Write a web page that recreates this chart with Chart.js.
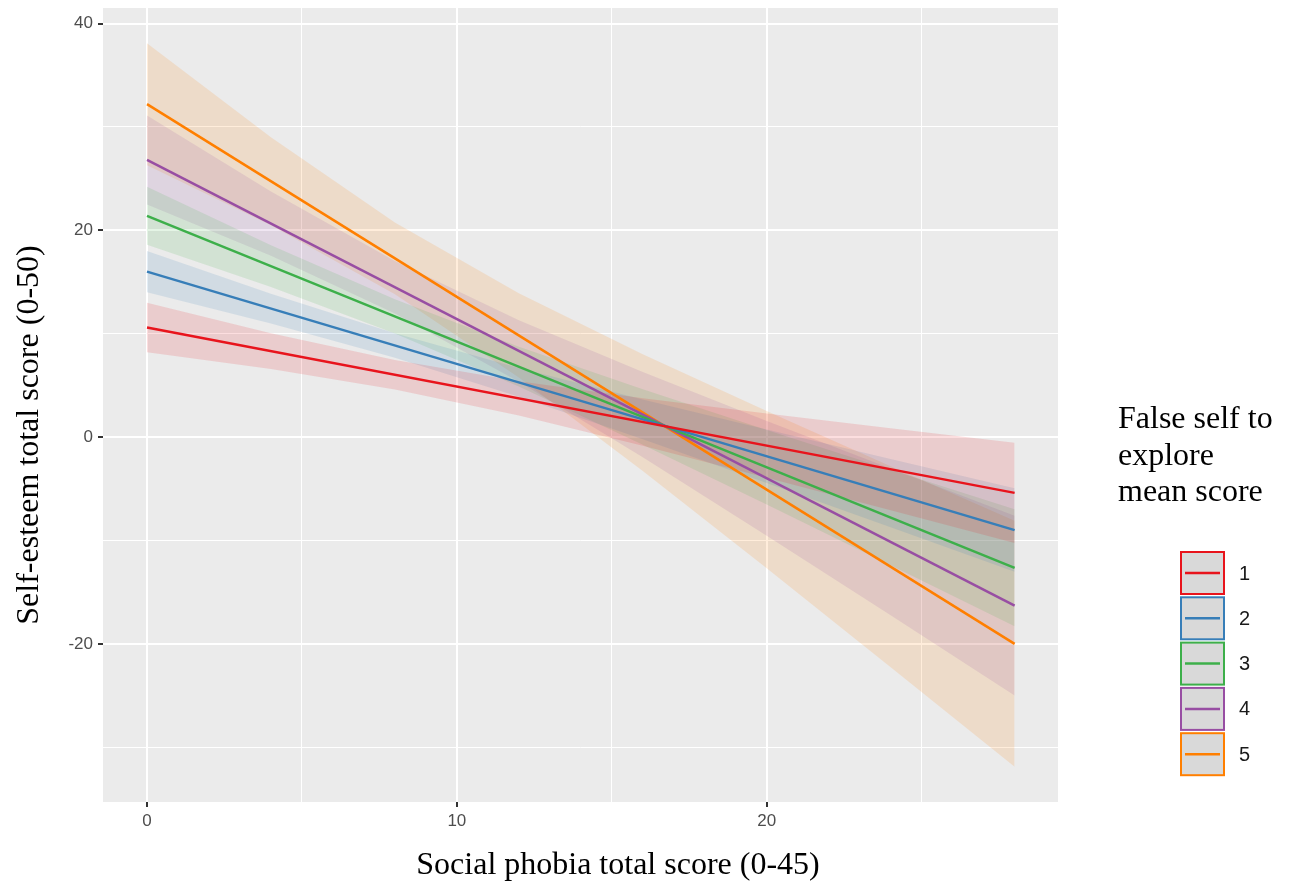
<!DOCTYPE html>
<html>
<head>
<meta charset="utf-8">
<style>
  html, body { margin: 0; padding: 0; background: #ffffff; }
  #wrap { width: 1290px; height: 884px; position: relative; }
</style>
<script src="https://cdn.jsdelivr.net/npm/chart.js@4.4.1/dist/chart.umd.min.js"></script>
</head>
<body>
<div id="wrap"><canvas id="c" width="1290" height="884"></canvas></div>
<script>
// ---------------- data ----------------
const groups = ['1', '2', '3', '4', '5'];
const colors = ['#E8141C', '#377EB8', '#3DAF4A', '#984EA3', '#FF7F00'];

// fitted lines (x = social phobia score)
const lineX = [0, 28];
const fit1 = [10.6, -5.4];
const fit2 = [16.0, -9.0];
const fit3 = [21.4, -12.65];
const fit4 = [26.8, -16.3];
const fit5 = [32.2, -20.0];

// confidence bands
const bandX = [0, 4, 8, 12, 16, 20, 24, 28];
const upper1 = [13.0, 10.04, 7.45, 5.40, 3.76, 2.27, 0.85, -0.55];
const lower1 = [8.2, 6.58, 4.61, 2.08, -0.84, -3.93, -7.07, -10.25];
const upper2 = [18.0, 13.87, 10.04, 6.67, 3.63, 0.72, -2.13, -4.96];
const lower2 = [14.0, 10.99, 7.68, 3.91, -0.21, -4.44, -8.73, -13.04];
const upper3 = [24.2, 18.56, 13.32, 8.74, 4.63, 0.69, -3.17, -6.99];
const lower3 = [18.6, 14.52, 10.02, 4.88, -0.75, -6.53, -12.41, -18.31];
const upper4 = [31.1, 23.74, 17.03, 11.30, 6.30, 1.56, -3.04, -7.61];
const lower4 = [22.5, 17.54, 11.95, 5.36, -1.96, -9.54, -17.24, -24.99];
const upper5 = [38.1, 28.99, 20.76, 13.91, 8.02, 2.51, -2.82, -8.10];
const lower5 = [26.3, 20.49, 13.82, 5.75, -3.28, -12.69, -22.26, -31.90];

// axis ticks
const xMajorTicks = [0, 10, 20];
const xMinorTicks = [5, 15, 25];
const yMajorTicks = [-20, 0, 20, 40];
const yMinorTicks = [-30, -10, 10, 30];
const xTickLabels = ['0', '10', '20'];
const yTickLabels = ['-20', '0', '20', '40'];

const xTitle = 'Social phobia total score (0-45)';
const yTitle = 'Self-esteem total score (0-50)';
const legendTitle = ['False self to', 'explore', 'mean score'];

// ---------------- build datasets ----------------
const fits = [fit1, fit2, fit3, fit4, fit5];
const uppers = [upper1, upper2, upper3, upper4, upper5];
const lowers = [lower1, lower2, lower3, lower4, lower5];

function hexA(hex, a) {
  const r = parseInt(hex.slice(1, 3), 16), g = parseInt(hex.slice(3, 5), 16), b = parseInt(hex.slice(5, 7), 16);
  return `rgba(${r},${g},${b},${a})`;
}

const datasets = [];
// lines first (drawn on top)
groups.forEach((g, i) => {
  datasets.push({
    label: g,
    data: lineX.map((x, k) => ({ x: x, y: fits[i][k] })),
    borderColor: colors[i],
    borderWidth: 2.5,
    pointRadius: 0,
    fill: false,
    tension: 0,
    order: 0
  });
});
// bands
groups.forEach((g, i) => {
  datasets.push({
    label: 'upper ' + g,
    data: bandX.map((x, k) => ({ x: x, y: uppers[i][k] })),
    borderWidth: 0,
    borderColor: 'rgba(0,0,0,0)',
    pointRadius: 0,
    fill: false,
    order: 1
  });
  datasets.push({
    label: 'lower ' + g,
    data: bandX.map((x, k) => ({ x: x, y: lowers[i][k] })),
    borderWidth: 0,
    borderColor: 'rgba(0,0,0,0)',
    backgroundColor: hexA(colors[i], 0.14),
    pointRadius: 0,
    fill: '-1',
    order: 1
  });
});

// ---------------- plugins ----------------
const panelBg = {
  id: 'panelBg',
  beforeDraw(chart) {
    const { ctx, chartArea: a } = chart;
    ctx.save();
    ctx.fillStyle = '#EBEBEB';
    ctx.fillRect(a.left, a.top, a.right - a.left, a.bottom - a.top);
    ctx.restore();
  }
};

const annotations = {
  id: 'annotations',
  afterDraw(chart) {
    const ctx = chart.ctx;
    ctx.save();
    ctx.fillStyle = '#000000';
    ctx.font = '32px "Liberation Serif", "Times New Roman", serif';
    ctx.textAlign = 'center';
    ctx.textBaseline = 'middle';
    // x title
    ctx.fillText(xTitle, 618, 866);
    // y title
    ctx.save();
    ctx.translate(30, 435);
    ctx.rotate(-Math.PI / 2);
    ctx.fillText(yTitle, 0, 0);
    ctx.restore();
    // legend title
    ctx.textAlign = 'left';
    legendTitle.forEach((t, i) => ctx.fillText(t, 1118, 420 + i * 36.5));
    // legend keys
    const bx = 1181, bw = 43, bh = 42, step = 45.3, by0 = 552;
    groups.forEach((g, i) => {
      const y = by0 + i * step;
      ctx.fillStyle = '#D9D9D9';
      ctx.fillRect(bx, y, bw, bh);
      ctx.strokeStyle = colors[i];
      ctx.lineWidth = 2;
      ctx.strokeRect(bx, y, bw, bh);
      ctx.beginPath();
      ctx.moveTo(bx + 4, y + bh / 2);
      ctx.lineTo(bx + bw - 4, y + bh / 2);
      ctx.lineWidth = 2.5;
      ctx.stroke();
      ctx.fillStyle = '#1A1A1A';
      ctx.font = '20px "Liberation Sans", Arial, sans-serif';
      ctx.textAlign = 'left';
      ctx.textBaseline = 'middle';
      ctx.fillText(g, 1239, y + bh / 2 + 1);
    });
    ctx.restore();
  }
};

// ---------------- chart ----------------
const tickFont = { family: '"Liberation Sans", Arial, sans-serif', size: 17 };

function noPad(scale) {
  scale.paddingTop = 0;
  scale.paddingBottom = 0;
  scale.paddingLeft = 0;
  scale.paddingRight = 0;
}

new Chart(document.getElementById('c'), {
  type: 'line',
  data: { datasets: datasets },
  options: {
    responsive: false,
    animation: false,
    layout: { padding: { top: 8, right: 232, bottom: 0, left: 0 } },
    plugins: {
      legend: { display: false },
      tooltip: { enabled: false },
      filler: { propagate: false }
    },
    scales: {
      x: {
        type: 'linear',
        min: -1.42,
        max: 29.4,
        afterBuildTicks(scale) {
          scale.ticks = xMajorTicks.concat(xMinorTicks).sort((a, b) => a - b).map(v => ({ value: v }));
        },
        afterFit(scale) { scale.height = 82; noPad(scale); },
        border: { display: false },
        grid: {
          color: '#FFFFFF',
          lineWidth: ctx => xMajorTicks.includes(ctx.tick.value) ? 2 : 1,
          tickColor: ctx => xMajorTicks.includes(ctx.tick.value) ? '#333333' : 'rgba(0,0,0,0)',
          tickLength: 5,
          tickWidth: 2
        },
        ticks: {
          font: tickFont,
          color: '#4D4D4D',
          padding: 4,
          maxRotation: 0,
          autoSkip: false,
          callback: v => {
            const i = xMajorTicks.indexOf(v);
            return i >= 0 ? xTickLabels[i] : '';
          }
        }
      },
      y: {
        type: 'linear',
        min: -35.3,
        max: 41.5,
        afterBuildTicks(scale) {
          scale.ticks = yMajorTicks.concat(yMinorTicks).sort((a, b) => a - b).map(v => ({ value: v }));
        },
        afterFit(scale) { scale.width = 103; noPad(scale); },
        border: { display: false },
        grid: {
          color: '#FFFFFF',
          lineWidth: ctx => yMajorTicks.includes(ctx.tick.value) ? 2 : 1,
          tickColor: ctx => yMajorTicks.includes(ctx.tick.value) ? '#333333' : 'rgba(0,0,0,0)',
          tickLength: 5,
          tickWidth: 2
        },
        ticks: {
          font: tickFont,
          color: '#4D4D4D',
          padding: 5,
          autoSkip: false,
          callback: v => {
            const i = yMajorTicks.indexOf(v);
            return i >= 0 ? yTickLabels[i] : '';
          }
        }
      }
    }
  },
  plugins: [panelBg, annotations]
});
</script>
</body>
</html>
